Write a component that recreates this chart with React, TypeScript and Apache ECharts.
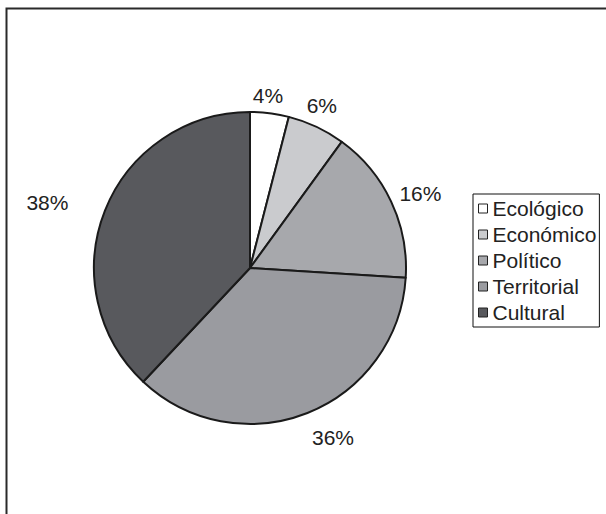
import React, { useEffect, useRef } from "react";
import * as echarts from "echarts";

const categories = ["Ecológico", "Económico", "Político", "Territorial", "Cultural"];
const values = [4, 6, 16, 36, 38];
const colors = ["#ffffff", "#cacbce", "#a7a8ac", "#9a9ba0", "#58595d"];
// label leader offsets (styling only, lines hidden)
const labelRadial = [18, 24, 18, 26, 21];
const labelTangent = [-24, -25, -13, -10, 12];

export default function App() {
  const ref = useRef<HTMLDivElement>(null);
  useEffect(() => {
    const chart = echarts.init(ref.current!, null, { renderer: "svg" });
    chart.setOption({
      animation: false,
      backgroundColor: "#ffffff",
      graphic: [
        {
          type: "rect",
          shape: { x: 6.5, y: 8.5, width: 640, height: 540 },
          style: { fill: "none", stroke: "#2a2a2a", lineWidth: 2 },
          silent: true,
        },
      ],
      legend: {
        orient: "vertical",
        left: 473,
        top: 194,
        padding: [4, 3, 4, 5],
        itemGap: 5,
        icon: "rect",
        itemWidth: 9,
        itemHeight: 9,
        backgroundColor: "#ffffff",
        borderColor: "#111111",
        borderWidth: 1,
        borderRadius: 0,
        itemStyle: { borderColor: "#222222", borderWidth: 1 },
        textStyle: {
          fontFamily: "Liberation Sans",
          fontSize: 21,
          color: "#222222",
          width: 108,
          overflow: "truncate",
          ellipsis: "",
        },
        data: categories,
      },
      series: [
        {
          type: "pie",
          center: [250, 268],
          radius: [0, 156],
          startAngle: 90,
          clockwise: true,
          avoidLabelOverlap: false,
          data: categories.map((c, i) => ({
            name: c,
            value: values[i],
            itemStyle: { color: colors[i] },
            labelLine: { length: labelRadial[i], length2: labelTangent[i] },
          })),
          itemStyle: { borderColor: "#1a1a1a", borderWidth: 2 },
          label: {
            show: true,
            position: "outside",
            formatter: "{c}%",
            fontFamily: "Liberation Sans",
            fontSize: 21,
            color: "#222222",
            distanceToLabelLine: 5,
          },
          labelLine: { show: false },
          emphasis: { disabled: true },
        },
      ],
    });
    return () => chart.dispose();
  }, []);
  return (
    <div
      ref={ref}
      style={{ position: "fixed", left: 0, top: 0, width: 606, height: 514 }}
    />
  );
}
